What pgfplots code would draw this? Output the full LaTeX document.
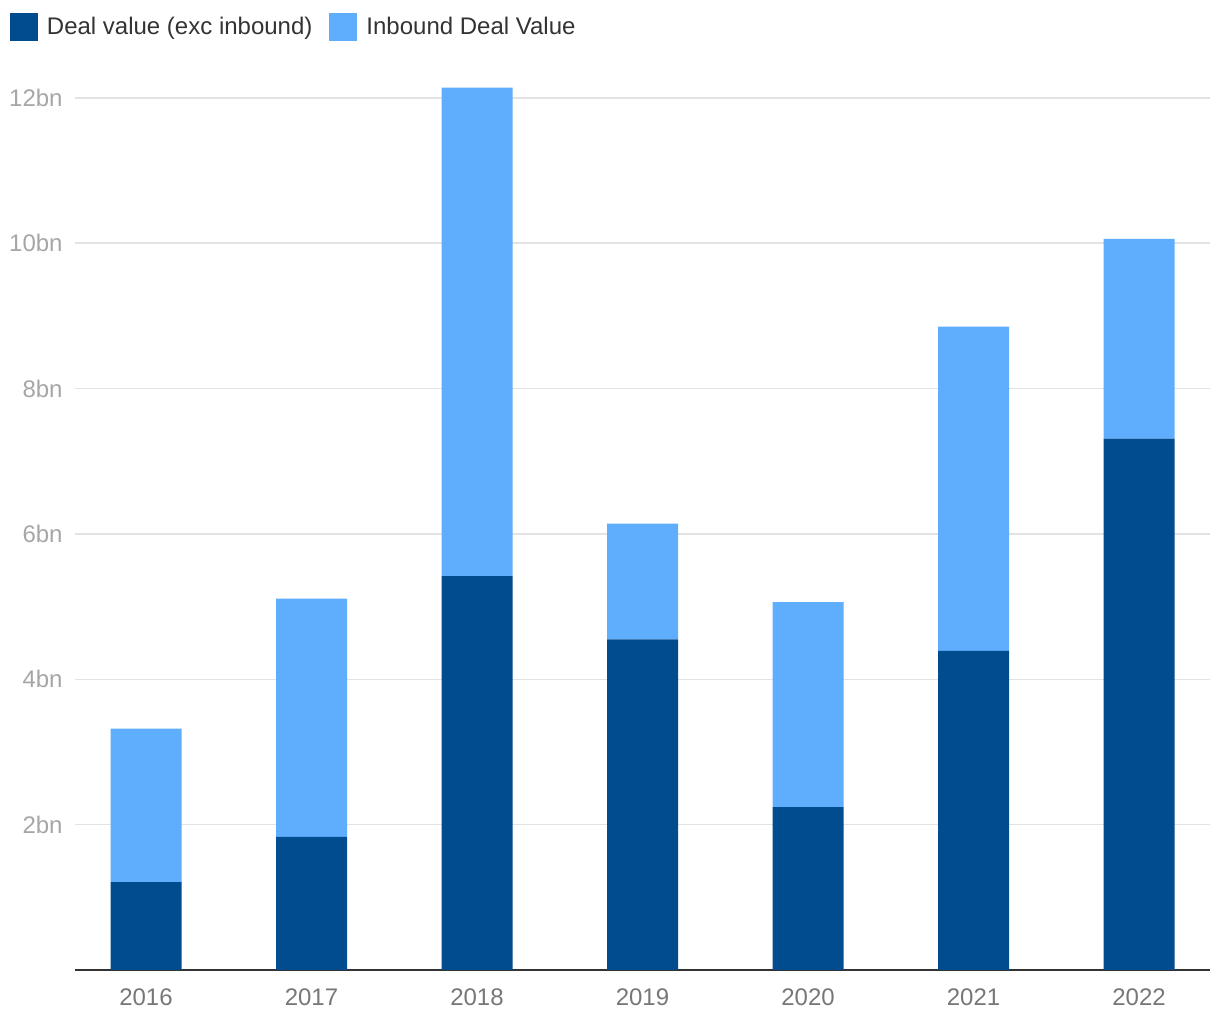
\documentclass[border=0pt]{standalone}
\usepackage{pgfplots}
\pgfplotsset{compat=1.18}
\usepackage{fontspec}
\setmainfont{Liberation Sans}
\definecolor{darkblue}{HTML}{004C8F}
\definecolor{lightblue}{HTML}{5EAEFD}
\definecolor{gridc}{HTML}{E3E3E3}
\definecolor{ylab}{HTML}{A6A6A6}
\definecolor{xlab}{HTML}{777777}
\definecolor{legtext}{HTML}{333333}
\begin{document}
\begin{tikzpicture}
\path[use as bounding box] (0,0) rectangle (610pt,510pt);
\begin{axis}[
  at={(37.5pt,25pt)}, anchor=south west,
  scale only axis,
  width=567.5pt, height=447pt,
  ybar stacked,
  bar width=35.5pt,
  xmin=-0.429, xmax=6.429,
  ymin=0, ymax=12.3,
  axis x line*=bottom,
  axis y line*=left,
  x axis line style={draw=legtext, line width=1pt, -},
  y axis line style={draw=none},
  xtick={0,1,2,3,4,5,6},
  xticklabels={2016,2017,2018,2019,2020,2021,2022},
  major tick length=0pt,
  ytick={2,4,6,8,10,12},
  yticklabels={2bn,4bn,6bn,8bn,10bn,12bn},
  ymajorgrids,
  grid style={draw=gridc, line width=0.75pt},
  font=\fontsize{12}{14}\selectfont,
  yticklabel style={text=ylab, inner sep=0pt, anchor=east, xshift=-6pt},
  xticklabel style={text=xlab, inner sep=0pt, anchor=north, yshift=-9pt},
  legend columns=2,
  legend style={at={(-0.0573,1.0705)}, anchor=north west, draw=none, fill=none,
    inner sep=0pt, outer sep=0pt, text=legtext,
    font=\fontsize{12}{14}\selectfont,
    /tikz/every even column/.append style={column sep=8.5pt},
    nodes={inner sep=0pt, anchor=west}},
  legend image code/.code={\fill[#1] (0pt,-7pt) rectangle (14pt,7pt);},
  legend cell align=left,
]
\addplot[fill=darkblue, draw=none] coordinates {(0,1.21) (1,1.83) (2,5.42) (3,4.55) (4,2.24) (5,4.39) (6,7.31)};
\addplot[fill=lightblue, draw=none] coordinates {(0,2.11) (1,3.28) (2,6.72) (3,1.59) (4,2.82) (5,4.46) (6,2.75)};
\legend{\hspace{4.5pt}Deal value (exc inbound),\hspace{4.5pt}Inbound Deal Value}
\end{axis}
\end{tikzpicture}
\end{document}
